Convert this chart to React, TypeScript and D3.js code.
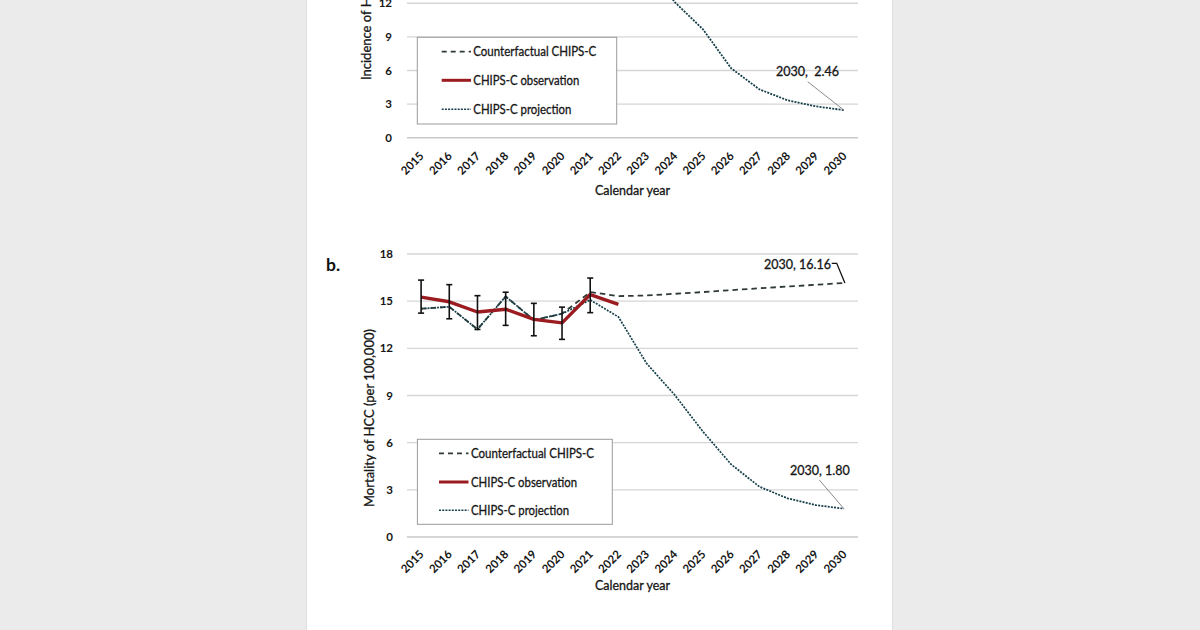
import React from "react";
import * as d3 from "d3";

// ---------- data ----------
const years = ["2015","2016","2017","2018","2019","2020","2021","2022","2023","2024","2025","2026","2027","2028","2029","2030"];
const yTicksA = [0, 3, 6, 9, 12];
const yTicksB = [0, 3, 6, 9, 12, 15, 18];

// Panel b: mortality
const mortObsYears = ["2015","2016","2017","2018","2019","2020","2021","2022"];
const mortObs = [15.26, 14.96, 14.31, 14.49, 13.84, 13.62, 15.42, 14.79];
const mortErrYears = ["2015","2016","2017","2018","2019","2020","2021"];
const mortErrLow = [14.24, 13.88, 13.2, 13.46, 12.8, 12.57, 14.27];
const mortErrHigh = [16.34, 16.05, 15.35, 15.57, 14.86, 14.62, 16.47];
const mortCounter = [14.52, 14.64, 13.21, 15.3, 13.8, 14.2, 15.58, 15.32, 15.36, 15.47, 15.58, 15.7, 15.82, 15.93, 16.04, 16.16];
const mortProj = [14.52, 14.64, 13.21, 15.3, 13.8, 14.2, 15.08, 14.0, 11.04, 9.03, 6.7, 4.62, 3.2, 2.46, 2.03, 1.8];

// Panel a: incidence (only the lower part is visible)
const incProjYears = ["2023","2024","2025","2026","2027","2028","2029","2030"];
const incProj = [15.6, 12.1, 9.68, 6.2, 4.32, 3.34, 2.8, 2.46];

const legendLabels = ["Counterfactual CHIPS-C", "CHIPS-C observation", "CHIPS-C projection"];
const legendWidths = [123, 106, 98];

const FONT = "Lato, 'Open Sans', sans-serif";
const COL_COUNTER = "#2f3a33";
const COL_PROJ = "#163f4a";
const COL_OBS = "#9a1b20";
const GRID = "#d6d6d6";
const INK = "#161616";

type Pt = [string, number];

const x = d3.scaleBand<string>().domain(years).range([407, 858]);
const cx = (yr: string) => (x(yr) as number) + x.bandwidth() / 2;

const heavy = { stroke: INK, strokeWidth: 0.3, paintOrder: "stroke" } as const;

function Axes({ y, ticks, labelRight, labelDy, titleY }: { y: d3.ScaleLinear<number, number>; ticks: number[]; labelRight: number; labelDy: number; titleY: number }) {
  const y0 = y(0);
  return (
    <g>
      {ticks.map((t) => (
        <g key={t}>
          <line x1={407} x2={858} y1={y(t)} y2={y(t)} stroke={t === 0 ? "#c8c8c8" : GRID} strokeWidth={1.4} />
          <text x={labelRight} y={y(t)} dy="0.36em" textAnchor="end" fontSize={11.5} fontWeight={700} fill={INK} fontFamily={FONT}>{t}</text>
        </g>
      ))}
      {years.map((yr) => (
        <text key={yr} transform={`translate(${cx(yr) + 3.5},${y0 + labelDy}) rotate(-45)`} textAnchor="end" fontSize={11.5} fontWeight={700} fill={INK} fontFamily={FONT}>{yr}</text>
      ))}
      <text x={632.5} y={titleY} textAnchor="middle" fontSize={12.5} fill={INK} fontFamily={FONT} {...heavy}>Calendar year</text>
    </g>
  );
}

function Legend({ bx, by, bw, bh, rows, sx1, sx2, tx }: { bx: number; by: number; bw: number; bh: number; rows: number[]; sx1: number; sx2: number; tx: number }) {
  return (
    <g>
      <rect x={bx} y={by} width={bw} height={bh} fill="#fff" stroke="#9a9a9a" strokeWidth={1} />
      <line x1={sx1} x2={sx2} y1={rows[0]} y2={rows[0]} stroke={COL_COUNTER} strokeWidth={1.8} strokeDasharray="5 4" />
      <line x1={sx1} x2={sx2} y1={rows[1]} y2={rows[1]} stroke={COL_OBS} strokeWidth={3} />
      <line x1={sx1} x2={sx2} y1={rows[2]} y2={rows[2]} stroke={COL_PROJ} strokeWidth={1.6} strokeDasharray="2 1.2" />
      {legendLabels.map((l, i) => (
        <text key={l} x={tx} y={rows[i]} dy="0.36em" fontSize={12.8} fill={INK} fontFamily={FONT} textLength={legendWidths[i]} lengthAdjust="spacingAndGlyphs" {...heavy}>{l}</text>
      ))}
    </g>
  );
}

export default function App() {
  const yB = d3.scaleLinear().domain([0, 18]).range([537, 254]);
  const yA = d3.scaleLinear().domain([0, 12]).range([137.7, 3.3]);

  const lineB = d3.line<Pt>().x((d) => cx(d[0])).y((d) => yB(d[1]));
  const lineA = d3.line<Pt>().x((d) => cx(d[0])).y((d) => yA(d[1]));

  const counterPts: Pt[] = years.map((yr, i) => [yr, mortCounter[i]]);
  const projPts: Pt[] = years.map((yr, i) => [yr, mortProj[i]]);
  const obsPts: Pt[] = mortObsYears.map((yr, i) => [yr, mortObs[i]]);
  const incPts: Pt[] = incProjYears.map((yr, i) => [yr, incProj[i]]);

  const last = years[years.length - 1];
  const xLast = cx(last);

  return (
    <svg width={1200} height={630} style={{ position: "fixed", left: 0, top: 0 }}>
      <rect x={0} y={0} width={1200} height={630} fill="#ebebeb" />
      <rect x={307} y={0} width={585} height={630} fill="#ffffff" />
      <line x1={306.5} x2={306.5} y1={0} y2={630} stroke="#dedede" strokeWidth={1} />
      <line x1={892.5} x2={892.5} y1={0} y2={630} stroke="#dedede" strokeWidth={1} />

      {/* ---------- panel a (cropped at top) ---------- */}
      <Axes y={yA} ticks={yTicksA} labelRight={392} labelDy={19} titleY={195} />
      <text transform={`translate(371,80) rotate(-90)`} fontSize={13} fill={INK} fontFamily={FONT} {...heavy}>Incidence of HCC (per 100,000)</text>
      <path d={lineA(incPts) || ""} fill="none" stroke={COL_PROJ} strokeWidth={1.8} strokeDasharray="2 1.2" />
      <Legend bx={417.3} by={37.3} bw={199.4} bh={86.7} rows={[51.7, 80.3, 109.3]} sx1={441.7} sx2={471} tx={473.3} />
      <text x={807.5} y={71.7} dy="0.36em" textAnchor="middle" fontSize={12.5} fill={INK} fontFamily={FONT} style={{ whiteSpace: "pre" }} {...heavy}>{"2030,  2.46"}</text>
      <line x1={807.7} y1={81.7} x2={xLast} y2={yA(incProj[incProj.length - 1])} stroke="#8a8a8a" strokeWidth={1} />

      {/* ---------- panel b ---------- */}
      <text x={326} y={270.5} fontSize={17.5} fontWeight={700} fill="#111" fontFamily={FONT}>b.</text>
      <Axes y={yB} ticks={yTicksB} labelRight={393} labelDy={18} titleY={590} />
      <text transform={`translate(373.5,507) rotate(-90)`} fontSize={13} fill={INK} fontFamily={FONT} {...heavy}>Mortality of HCC (per 100,000)</text>

      <path d={lineB(counterPts) || ""} fill="none" stroke={COL_COUNTER} strokeWidth={1.8} strokeDasharray="5.5 4" />
      <path d={lineB(projPts) || ""} fill="none" stroke={COL_PROJ} strokeWidth={1.7} strokeDasharray="2 1.2" />
      <path d={lineB(obsPts) || ""} fill="none" stroke={COL_OBS} strokeWidth={3.4} strokeLinejoin="round" />
      {mortErrYears.map((yr, i) => {
        const xx = cx(yr);
        const lo = yB(mortErrLow[i]);
        const hi = yB(mortErrHigh[i]);
        return (
          <g key={yr} stroke="#111" strokeWidth={1.6}>
            <line x1={xx} x2={xx} y1={lo} y2={hi} />
            <line x1={xx - 3} x2={xx + 3} y1={lo} y2={lo} />
            <line x1={xx - 3} x2={xx + 3} y1={hi} y2={hi} />
          </g>
        );
      })}

      <Legend bx={417.4} by={439.3} bw={194.9} bh={85} rows={[453.3, 482, 510.3]} sx1={439} sx2={468.5} tx={471} />

      <text x={819.8} y={470.7} dy="0.36em" textAnchor="middle" fontSize={12.5} fill={INK} fontFamily={FONT} {...heavy}>2030, 1.80</text>
      <line x1={819.3} y1={480} x2={xLast} y2={yB(mortProj[mortProj.length - 1])} stroke="#8a8a8a" strokeWidth={1} />

      <text x={797.5} y={264} dy="0.36em" textAnchor="middle" fontSize={12.5} fill={INK} fontFamily={FONT} {...heavy}>2030, 16.16</text>
      <polyline points={`831.7,263.3 836.7,263.3 ${xLast + 1},${yB(mortCounter[mortCounter.length - 1])}`} fill="none" stroke="#111" strokeWidth={1.3} />
    </svg>
  );
}
